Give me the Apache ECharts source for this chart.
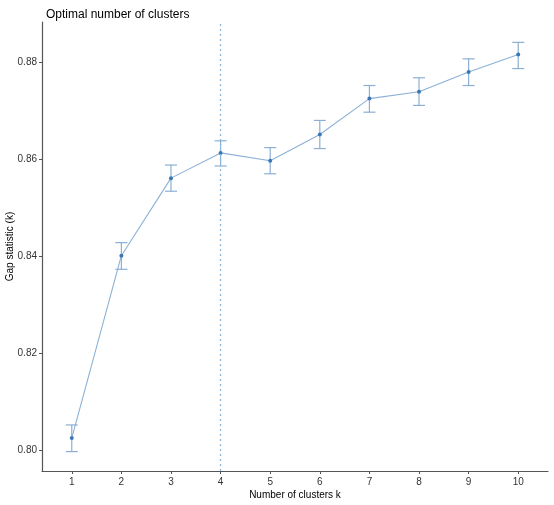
<!DOCTYPE html>
<html>
<head>
<meta charset="utf-8">
<script src="https://cdn.jsdelivr.net/npm/echarts@6/dist/echarts.min.js"></script>
<style>
html,body{margin:0;padding:0;background:#fff;}
#chart{width:554px;height:505px;}
</style>
</head>
<body>
<div id="chart"></div>
<script>
// gap statistic per number of clusters
var clusters=[1,2,3,4,5,6,7,8,9,10];
var gap=[0.8025,0.8401,0.8561,0.8613,0.8597,0.8651,0.8725,0.8739,0.8780,0.8816];
var gapLow=[0.7997,0.8373,0.8534,0.8586,0.8570,0.8622,0.8697,0.8711,0.8752,0.8787];
var gapHigh=[0.8052,0.8428,0.8588,0.8638,0.8624,0.8680,0.8752,0.8768,0.8807,0.8841];
var yTicks=[0.80,0.82,0.84,0.86,0.88];
var optimalK=4;

var chart=echarts.init(document.getElementById("chart"));
var font='"Liberation Sans", Arial, sans-serif';

var lineData=[];
var errData=[];
for(let i=0;i<clusters.length;i++){
    lineData.push([clusters[i],gap[i]]);
    errData.push([clusters[i],gapLow[i],gapHigh[i]]);
}

var option={
    animation:false,
    title:{
        text:'Optimal number of clusters',
        left:41,
        top:4,
        textStyle:{fontFamily:font,fontSize:12,fontWeight:'normal',color:'#000'}
    },
    grid:{left:42,right:6,top:22,bottom:34,containLabel:false,outerBoundsMode:'none'},
    xAxis:{
        type:'value',
        min:0.4,
        max:10.6,
        name:'Number of clusters k',
        nameLocation:'middle',
        nameGap:19,
        nameMoveOverlap:false,
        nameTextStyle:{fontFamily:font,fontSize:10,color:'#000'},
        splitLine:{show:false},
        axisLine:{lineStyle:{color:'#555',width:1.2}},
        axisTick:{customValues:clusters,length:3,lineStyle:{color:'#555'}},
        axisLabel:{customValues:clusters,margin:6,fontFamily:font,fontSize:10,color:'#333'}
    },
    yAxis:{
        type:'value',
        min:0.7957,
        max:0.8883,
        name:'Gap statistic (k)',
        nameLocation:'middle',
        nameGap:27,
        nameMoveOverlap:false,
        nameTextStyle:{fontFamily:font,fontSize:10,color:'#000'},
        splitLine:{show:false},
        axisLine:{show:true,lineStyle:{color:'#555',width:1.2}},
        axisTick:{show:true,customValues:yTicks,length:3,lineStyle:{color:'#555'}},
        axisLabel:{
            customValues:yTicks,
            margin:5,
            fontFamily:font,fontSize:10,color:'#333',
            formatter:function(v){return v.toFixed(2);}
        }
    },
    series:[
        {
            type:'custom',
            name:'err',
            data:errData,
            z:2,
            renderItem:function(params,api){
                var x=api.value(0);
                var lo=api.coord([x,api.value(1)]);
                var hi=api.coord([x,api.value(2)]);
                var w=6;
                var st={stroke:'#7fa6cf',lineWidth:1.2,opacity:0.9};
                return {
                    type:'group',
                    children:[
                        {type:'line',shape:{x1:lo[0],y1:lo[1],x2:hi[0],y2:hi[1]},style:st},
                        {type:'line',shape:{x1:lo[0]-w,y1:lo[1],x2:lo[0]+w,y2:lo[1]},style:st},
                        {type:'line',shape:{x1:hi[0]-w,y1:hi[1],x2:hi[0]+w,y2:hi[1]},style:st}
                    ]
                };
            }
        },
        {
            type:'line',
            name:'gap',
            data:lineData,
            z:3,
            symbol:'circle',
            symbolSize:4,
            lineStyle:{color:'#8cb1d8',width:1.1},
            itemStyle:{color:'#3a78b5'},
            markLine:{
                silent:true,
                symbol:'none',
                label:{show:false},
                lineStyle:{color:'#8bb8dd',type:[2,3],width:1.3},
                data:[{xAxis:optimalK}]
            }
        }
    ]
};
chart.setOption(option);
</script>
</body>
</html>
